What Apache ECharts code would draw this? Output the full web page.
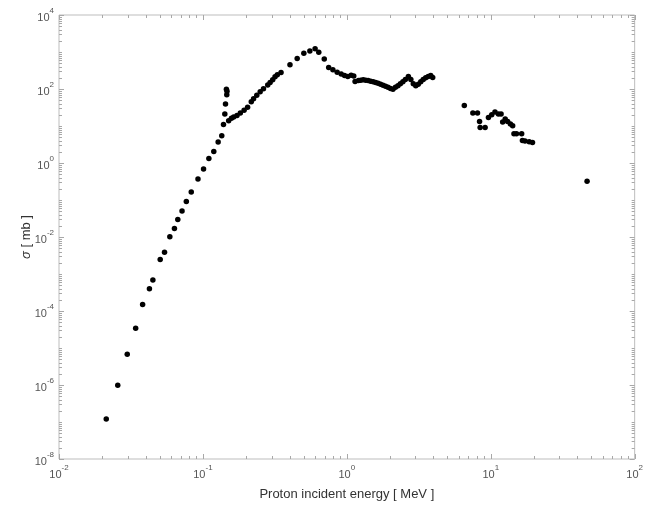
<!DOCTYPE html>
<html>
<head>
<meta charset="utf-8">
<title>Proton cross section</title>
<script src="https://cdn.jsdelivr.net/npm/echarts@6/dist/echarts.min.js"></script>
<style>
  html, body { margin: 0; padding: 0; background: #fff; }
  #chart { width: 646px; height: 506px; }
</style>
</head>
<body>
<div id="chart"></div>
<script>
// Proton incident energy (MeV)
const energy = [
  0.0213, 0.0256, 0.0298, 0.0341, 0.0381, 0.0425, 0.0449, 0.0505, 0.0541, 0.0589,
  0.0634, 0.0669, 0.0716, 0.0767, 0.0830, 0.0924, 0.101, 0.110, 0.119, 0.1276,
  0.1352, 0.139, 0.142, 0.1435, 0.1465, 0.1470, 0.1456,
  0.151, 0.1578, 0.1636, 0.1725, 0.182, 0.1932, 0.2044, 0.2168, 0.2249, 0.2368,
  0.2500, 0.2636, 0.2820, 0.2931, 0.3055, 0.3171, 0.3289, 0.3490, 0.4027, 0.4519,
  0.5027, 0.5534, 0.6019, 0.6383, 0.6970, 0.7480, 0.8000, 0.8570, 0.9139, 0.9640,
  1.016, 1.071, 1.117, 1.141, 1.205, 1.250, 1.300, 1.352, 1.406, 1.464,
  1.524, 1.585, 1.649, 1.716, 1.785, 1.857, 1.932, 2.011, 2.092, 2.177,
  2.265, 2.356, 2.452, 2.551, 2.677, 2.785, 2.897, 3.014, 3.136, 3.263,
  3.395, 3.532, 3.679, 3.828, 3.951,
  6.55, 7.51, 8.09, 8.36, 8.44, 9.14, 9.64, 10.16, 10.7, 11.3,
  11.8, 12.1, 12.6, 13.1, 13.7, 14.2, 14.5, 15.1, 16.4, 16.6,
  17.3, 18.5, 19.5, 46.7
];
// Cross section sigma (mb)
const sigma = [
  1.2e-7, 9.9e-7, 6.8e-6, 3.4e-5, 1.51e-4, 4.0e-4, 6.9e-4, 2.47e-3, 3.89e-3, 1.01e-2,
  1.69e-2, 2.96e-2, 5.08e-2, 9.06e-2, 0.165, 0.371, 0.690, 1.33, 2.06, 3.69,
  5.46, 11.0, 21.0, 39.1, 69.6, 87.5, 97.9,
  13.8, 16.2, 17.4, 19.2, 22.3, 26.6, 32.0, 45.1, 54.3, 67.5,
  83.8, 101, 129, 149, 177, 213, 241, 278, 449, 671,
  927, 1069, 1233, 986, 650, 379, 329, 285, 256, 231,
  217, 237, 226, 159, 169, 173, 177, 173, 169, 163,
  156, 149, 142, 134, 126, 118, 111, 103, 99.1, 111,
  123, 138, 156, 182, 217, 182, 138, 122, 134, 156,
  182, 200, 219, 233, 206,
  35.8, 22.3, 22.3, 13.2, 9.14, 9.14, 17.0, 20.1, 23.8, 21.0,
  21.0, 12.8, 15.4, 13.2, 11.3, 10.1, 6.18, 6.18, 6.18, 4.07,
  3.93, 3.76, 3.60, 0.319
];
// Axis ranges
const xRange = [0.01, 100];
const yRange = [1e-8, 1e4];

const points = energy.map((e, i) => [e, sigma[i]]);

// Frame ticks on log axes: majors at decades, minors at 2..9 within each decade
function logTicks(lo, hi, majorEvery) {
  const out = [];
  const a = Math.round(Math.log10(lo)), b = Math.round(Math.log10(hi));
  for (let p = a; p <= b; p++) {
    const isMajor = ((p - a) % majorEvery) === 0;
    out.push([Math.pow(10, p), isMajor ? 1 : 0]);
    if (p < b) for (let k = 2; k <= 9; k++) out.push([k * Math.pow(10, p), 0]);
  }
  return out;
}
const xTicks = logTicks(xRange[0], xRange[1], 1);
const yTicks = logTicks(yRange[0], yRange[1], 2);

const tickColor = '#a8a8a8';
const labelColor = '#555';
const font = '"Liberation Sans", Arial, Helvetica, sans-serif';

function supLabel(v) {
  const p = Math.round(Math.log10(v));
  return '{b|10}{s|' + p + '}';
}
const supRich = {
  b: { fontSize: 11, lineHeight: 16, verticalAlign: 'bottom', color: labelColor, fontFamily: font },
  s: { fontSize: 8, lineHeight: 8, verticalAlign: 'top', color: labelColor, fontFamily: font }
};

const chart = echarts.init(document.getElementById('chart'), null, { renderer: 'canvas' });
chart.setOption({
  animation: false,
  backgroundColor: '#fff',
  grid: { left: 59, right: 7, top: 15, bottom: 46, show: true, borderColor: '#bdbdbd', borderWidth: 1, backgroundColor: 'transparent' },
  xAxis: {
    type: 'log', logBase: 10, min: xRange[0], max: xRange[1], interval: 1,
    name: 'Proton incident energy [ MeV ]', nameLocation: 'middle', nameGap: 29, nameMoveOverlap: false,
    nameTextStyle: { fontSize: 13, color: '#333', fontFamily: font },
    axisLine: { show: false }, axisTick: { show: false }, splitLine: { show: false },
    axisLabel: { formatter: supLabel, rich: supRich, margin: 5, showMinLabel: true, showMaxLabel: true }
  },
  yAxis: {
    type: 'log', logBase: 10, min: yRange[0], max: yRange[1], interval: 2,
    name: '{i|σ} [ mb ]', nameLocation: 'middle', nameGap: 26, nameRotate: 90, nameMoveOverlap: false,
    nameTextStyle: { fontSize: 13, color: '#333', fontFamily: font, rich: { i: { fontStyle: 'italic', fontSize: 13, color: '#333', fontFamily: font } } },
    axisLine: { show: false }, axisTick: { show: false }, splitLine: { show: false },
    axisLabel: { formatter: supLabel, rich: supRich, margin: 5, showMinLabel: true, showMaxLabel: true }
  },
  series: [
    {
      type: 'custom',
      silent: true,
      clip: false,
      z: 1,
      data: xTicks,
      renderItem: function (params, api) {
        const v = api.value(0), major = api.value(1) === 1;
        const len = major ? 5 : 3;
        const b = api.coord([v, yRange[0]]), t = api.coord([v, yRange[1]]);
        const x = Math.round(b[0]) + 0.5;
        return { type: 'group', children: [
          { type: 'line', shape: { x1: x, y1: b[1], x2: x, y2: b[1] - len }, style: { stroke: tickColor, lineWidth: 1 } },
          { type: 'line', shape: { x1: x, y1: t[1], x2: x, y2: t[1] + len }, style: { stroke: tickColor, lineWidth: 1 } }
        ] };
      }
    },
    {
      type: 'custom',
      silent: true,
      clip: false,
      z: 1,
      data: yTicks,
      renderItem: function (params, api) {
        const v = api.value(0), major = api.value(1) === 1;
        const len = major ? 5 : 3;
        const l = api.coord([xRange[0], v]), r = api.coord([xRange[1], v]);
        const y = Math.round(l[1]) + 0.5;
        return { type: 'group', children: [
          { type: 'line', shape: { x1: l[0], y1: y, x2: l[0] + len, y2: y }, style: { stroke: tickColor, lineWidth: 1 } },
          { type: 'line', shape: { x1: r[0], y1: y, x2: r[0] - len, y2: y }, style: { stroke: tickColor, lineWidth: 1 } }
        ] };
      }
    },
    {
      name: 'sigma',
      type: 'scatter',
      data: points,
      symbol: 'circle',
      symbolSize: 5.5,
      itemStyle: { color: '#000', opacity: 1 },
      z: 3
    }
  ]
});
</script>
</body>
</html>
